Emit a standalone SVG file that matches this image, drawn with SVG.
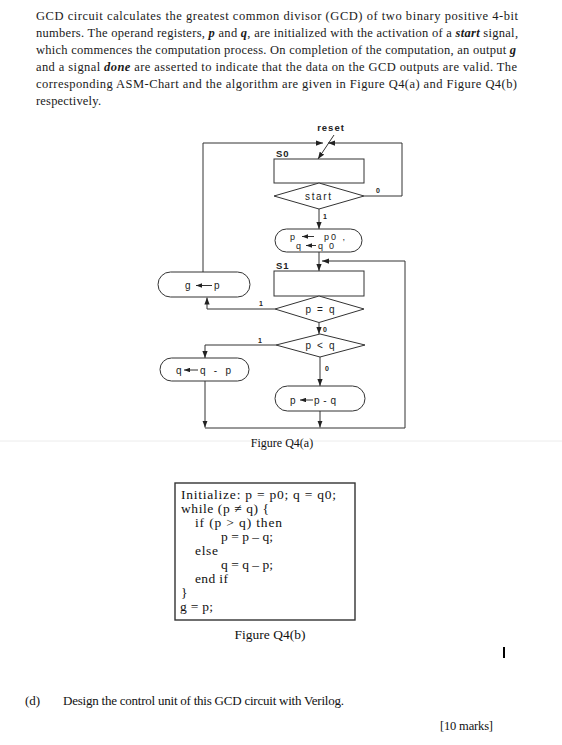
<svg xmlns="http://www.w3.org/2000/svg" width="562" height="745" viewBox="0 0 562 745">
<style>
.para{font-family:"Liberation Serif","Times New Roman",serif;font-size:12.5px;fill:#1a1a1a}
.bi{font-weight:bold;font-style:italic}
.lbl{font-family:"Liberation Sans",Arial,sans-serif;font-size:10px;fill:#222}
.sm{font-family:"Liberation Sans",Arial,sans-serif;font-size:9px;fill:#222}
.lblb{font-family:"Liberation Sans",Arial,sans-serif;font-size:9.5px;font-weight:bold;fill:#222;letter-spacing:1px}
.tiny{font-family:"Liberation Sans",Arial,sans-serif;font-size:7px;font-weight:bold;fill:#222}
.shape{fill:#fff;stroke:#333;stroke-width:1}
.ln{fill:none;stroke:#333;stroke-width:1}
.code{font-family:"Liberation Serif","Times New Roman",serif;font-size:13.5px;fill:#111}
.cap{font-family:"Liberation Serif","Times New Roman",serif;fill:#111}
</style>
<defs>
<marker id="ah" viewBox="0 0 8 6" refX="8" refY="3" markerWidth="7" markerHeight="5.5" orient="auto" markerUnits="userSpaceOnUse"><path d="M0,0 L8,3 L0,6 z" fill="#222"/></marker>
<marker id="sa" viewBox="0 0 8 6" refX="8" refY="3" markerWidth="6" markerHeight="4.5" orient="auto" markerUnits="userSpaceOnUse"><path d="M0,0 L8,3 L0,6 z" fill="#222"/></marker>
</defs>
<rect width="562" height="745" fill="#fff"/>

<g id="paragraph">
<text class="para" x="36" y="20" textLength="482" lengthAdjust="spacing">GCD circuit calculates the greatest common divisor (GCD) of two binary positive 4-bit</text>
<text class="para" x="36" y="37" textLength="482" lengthAdjust="spacing">numbers. The operand registers, <tspan class="bi">p</tspan> and <tspan class="bi">q</tspan>, are initialized with the activation of a <tspan class="bi">start</tspan> signal,</text>
<text class="para" x="36" y="54" textLength="480" lengthAdjust="spacing">which commences the computation process. On completion of the computation, an output <tspan class="bi">g</tspan></text>
<text class="para" x="36" y="71" textLength="481" lengthAdjust="spacing">and a signal <tspan class="bi">done</tspan> are asserted to indicate that the data on the GCD outputs are valid. The</text>
<text class="para" x="36" y="88" textLength="481" lengthAdjust="spacing">corresponding ASM-Chart and the algorithm are given in Figure Q4(a) and Figure Q4(b)</text>
<text class="para" x="36" y="105" textLength="65" lengthAdjust="spacing">respectively.</text>
</g>

<g id="connectors">
<path class="ln" d="M203,272 V143 H323" marker-end="url(#ah)"/>
<path class="ln" d="M364,196 H402 V143 H328" marker-end="url(#ah)"/>
<path class="ln" d="M334,135 L318,159" marker-end="url(#ah)"/>
<path class="ln" d="M319,209 V229" marker-end="url(#ah)"/>
<path class="ln" d="M319,252 V271" marker-end="url(#ah)"/>
<path class="ln" d="M320,428 H405 V261 H322" marker-end="url(#ah)"/>
<path class="ln" d="M275,309 H207 V297.5" marker-end="url(#ah)"/>
<path class="ln" d="M319,322.5 V334" marker-end="url(#ah)"/>
<path class="ln" d="M276,345 H205 V358" marker-end="url(#ah)"/>
<path class="ln" d="M320,357 V386" marker-end="url(#ah)"/>
<path class="ln" d="M205,381 V427.5" marker-end="url(#ah)"/>
<path class="ln" d="M320,411 V427.5" marker-end="url(#ah)"/>
<path class="ln" d="M205,428 H320"/>
<text class="lblb" x="331" y="131" text-anchor="middle">reset</text>
<text class="tiny" x="376" y="193">0</text>
<text class="tiny" x="323" y="219">1</text>
<text class="tiny" x="259" y="306">1</text>
<text class="tiny" x="323" y="332">0</text>
<text class="tiny" x="258" y="343">1</text>
<text class="tiny" x="325" y="371">0</text>
</g>

<g id="S0">
<text class="lblb" x="276" y="157">S0</text>
<rect class="shape" x="274" y="159" width="90" height="24"/>
</g>
<g id="start">
<polygon class="shape" points="274,196 319,183 364,196 319,209"/>
<text class="lbl" x="318" y="200" text-anchor="middle" font-size="11" textLength="26" lengthAdjust="spacing">start</text>
</g>
<g id="init">
<rect class="shape" x="275" y="229" width="87" height="23" rx="11.5"/>
<text class="sm" x="290" y="239.5">p</text>
<line class="ln" x1="314" y1="236.5" x2="302" y2="236.5" marker-end="url(#sa)"/>
<text class="sm" x="324" y="239.5" textLength="21" lengthAdjust="spacing">p0 ,</text>
<text class="sm" x="296" y="248.5">q</text>
<line class="ln" x1="316" y1="245.5" x2="306" y2="245.5" marker-end="url(#sa)"/>
<text class="sm" x="318" y="248.5" textLength="16" lengthAdjust="spacing">q0</text>
</g>
<g id="S1">
<text class="lblb" x="276" y="268.5">S1</text>
<rect class="shape" x="274" y="271" width="90" height="25"/>
</g>
<g id="peq">
<polygon class="shape" points="275,309 319,296 364,309 319,322.5"/>
<text class="lbl" x="320" y="313" text-anchor="middle" font-size="10.5" textLength="29" lengthAdjust="spacing">p = q</text>
</g>
<g id="gp">
<rect class="shape" x="158" y="272" width="92" height="25" rx="12.5"/>
<text class="lbl" x="185" y="289">g</text>
<line class="ln" x1="212" y1="285.5" x2="196" y2="285.5" marker-end="url(#sa)"/>
<text class="lbl" x="214" y="289">p</text>
</g>
<g id="plq">
<polygon class="shape" points="276,345 320,334 365,345 320,357"/>
<text class="lbl" x="320" y="349" text-anchor="middle" font-size="10.5" textLength="29" lengthAdjust="spacing">p &lt; q</text>
</g>
<g id="qqp">
<rect class="shape" x="160" y="358" width="89" height="23" rx="11.5"/>
<text class="lbl" x="176" y="373.5">q</text>
<line class="ln" x1="198" y1="370" x2="184" y2="370" marker-end="url(#sa)"/>
<text class="lbl" x="200" y="373.5" textLength="31" lengthAdjust="spacing">q - p</text>
</g>
<g id="ppq">
<rect class="shape" x="275" y="386" width="90" height="25" rx="12.5"/>
<text class="lbl" x="290" y="403.5">p</text>
<line class="ln" x1="313" y1="400" x2="300" y2="400" marker-end="url(#sa)"/>
<text class="lbl" x="314" y="403.5" textLength="22" lengthAdjust="spacing">p - q</text>
</g>

<line x1="0" y1="441" x2="562" y2="441" stroke="#ececec" stroke-width="1"/>
<text class="cap" x="282" y="447" font-size="12" text-anchor="middle">Figure Q4(a)</text>

<g id="algorithm">
<rect x="175" y="483" width="180" height="137" fill="#fff" stroke="#333" stroke-width="1.4"/>
<text class="code" x="181" y="498.5" textLength="155" lengthAdjust="spacing">Initialize: p = p0; q = q0;</text>
<text class="code" x="181" y="512.5" textLength="88" lengthAdjust="spacing">while (p ≠ q) {</text>
<text class="code" x="195" y="526.5" textLength="87" lengthAdjust="spacing">if (p &gt; q) then</text>
<text class="code" x="221" y="540.5" textLength="52" lengthAdjust="spacing">p = p – q;</text>
<text class="code" x="195" y="554.5" textLength="23" lengthAdjust="spacing">else</text>
<text class="code" x="221" y="568.5" textLength="52" lengthAdjust="spacing">q = q – p;</text>
<text class="code" x="195" y="582.5" textLength="33" lengthAdjust="spacing">end if</text>
<text class="code" x="181" y="596.5">}</text>
<text class="code" x="180" y="610.5" textLength="33" lengthAdjust="spacing">g = p;</text>
</g>
<text class="cap" x="270" y="639" font-size="13.5" text-anchor="middle">Figure Q4(b)</text>

<rect x="503" y="647" width="2" height="11" fill="#000"/>

<text class="cap" x="25" y="705" font-size="13">(d)</text>
<text class="cap" x="63" y="705" font-size="13" textLength="281" lengthAdjust="spacing">Design the control unit of this GCD circuit with Verilog.</text>
<text class="cap" x="440" y="730" font-size="12.5" textLength="53" lengthAdjust="spacing">[10 marks]</text>
</svg>
